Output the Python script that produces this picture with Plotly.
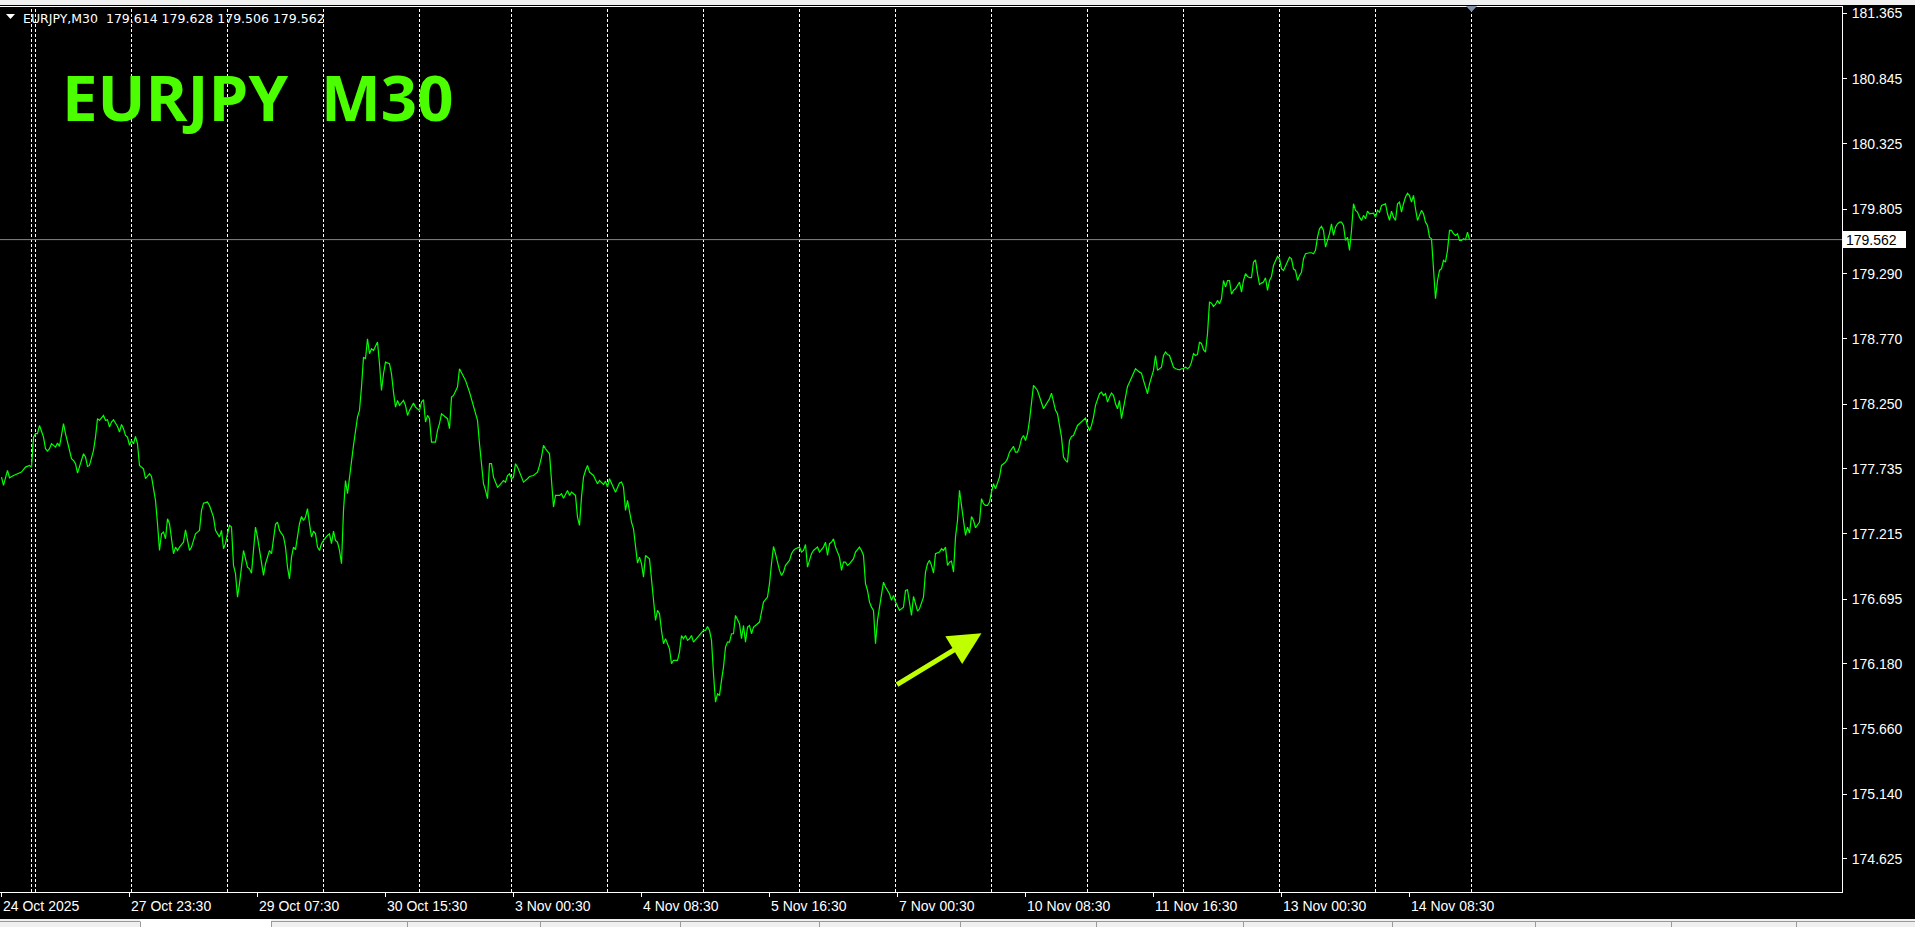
import plotly.graph_objects as go

# ---------------------------------------------------------------- data
symbol = "EURJPY"
timeframe = "M30"
last_bar_ohlc = [179.614, 179.628, 179.506, 179.562]   # O H L C of current bar

# M30 close prices, x = bar number (bar 0 = first bar on 24 Oct 2025)
bars_w1 = [0, 1, 3, 4, 6, 10, 12, 14, 15, 16, 17, 18, 19, 20, 21, 22, 23, 24, 25, 26,
           27, 28, 29, 30, 31, 32, 34, 35, 36, 37, 38, 39, 40, 41, 42, 43, 44, 46, 47, 48,
           49, 51, 52, 53, 54, 55, 56, 58, 59, 60, 61, 62, 63, 64, 65, 66, 67, 68, 69, 71,
           72, 74, 75, 76, 77, 78, 79, 80, 81, 82, 83, 84, 85, 86, 87, 88, 89, 91, 92, 93,
           94, 95, 97, 98, 99, 100, 101, 103, 104, 106, 107, 109, 110, 111, 112, 113, 114, 115, 116, 117,
           118, 119, 120, 121, 123, 124, 125, 127, 128, 129, 130, 131, 132, 134, 135, 136, 137, 138, 139, 141,
           142, 143, 144, 145, 146, 147, 149, 150, 151, 152, 153, 154, 155, 156, 157, 158, 159, 160, 161, 163,
           164, 165, 166, 167, 168, 169, 170, 171, 172, 173, 174, 175, 176, 178, 179, 180, 181, 182, 183, 184,
           185, 186, 187, 188, 189, 190, 191, 192, 194, 195, 196, 197, 198, 199, 201, 202, 203, 204, 206, 207,
           209, 210, 211, 212, 213, 214, 215, 217, 218, 219, 220, 222, 223, 224, 225, 226, 228, 229, 232, 234,
           236, 238, 239, 241, 242, 243, 244, 245, 246, 248, 249, 251, 252, 253, 254]
close_w1 = [177.668, 177.602, 177.721, 177.663, 177.681, 177.708, 177.748, 177.761, 177.748, 177.987,
            178.014, 178.014, 178.080, 178.040, 177.987, 177.894, 177.875, 177.894, 177.934, 177.921,
            177.907, 177.939, 177.913, 178.000, 178.094, 178.014, 177.881, 177.815, 177.801, 177.775,
            177.700, 177.748, 177.801, 177.854, 177.828, 177.753, 177.761, 177.881, 177.987, 178.134,
            178.120, 178.160, 178.120, 178.126, 178.067, 178.107, 178.126, 178.072, 178.027, 178.088,
            178.054, 178.000, 177.987, 177.921, 177.960, 177.934, 177.992, 177.934, 177.761, 177.734,
            177.655, 177.695, 177.673, 177.588, 177.482, 177.296, 177.083, 177.216, 177.229, 177.176,
            177.336, 177.296, 177.163, 177.057, 177.110, 177.083, 177.110, 177.149, 177.248, 177.176,
            177.083, 177.110, 177.216, 177.229, 177.243, 177.402, 177.460, 177.469, 177.442, 177.349,
            177.243, 177.189, 177.243, 177.097, 177.137, 177.216, 177.283, 177.269, 176.964, 176.898,
            176.711, 176.818, 176.950, 177.083, 176.950, 176.937, 176.902, 177.269, 177.189, 177.083,
            176.950, 176.884, 176.977, 177.083, 177.057, 177.163, 177.291, 177.309, 177.243, 177.195,
            177.110, 176.950, 176.857, 177.030, 177.110, 177.089, 177.296, 177.354, 177.322, 177.349,
            177.416, 177.296, 177.189, 177.237, 177.216, 177.110, 177.083, 177.137, 177.163, 177.203,
            177.216, 177.137, 177.237, 177.163, 177.149, 177.083, 176.977, 177.402, 177.641, 177.535,
            177.668, 177.827, 177.921, 178.147, 178.200, 178.386, 178.625, 178.612, 178.771, 178.652,
            178.692, 178.678, 178.718, 178.745, 178.572, 178.359, 178.492, 178.585, 178.572, 178.492,
            178.346, 178.226, 178.279, 178.240, 178.279, 178.240, 178.160, 178.200, 178.258, 178.226,
            178.200, 178.266, 178.285, 178.107, 178.160, 178.134, 177.947, 177.947, 178.040, 178.094,
            178.173, 178.147, 178.134, 178.054, 178.306, 178.319, 178.386, 178.532, 178.439, 178.346,
            178.226, 178.120, 177.934, 177.615, 177.562, 177.496, 177.775, 177.775, 177.668, 177.588,
            177.602, 177.641, 177.628, 177.681, 177.695]

bars_w2 = [255, 256, 257, 258, 259, 261, 263, 264, 266, 268, 269, 270, 271, 272, 274, 275, 276, 277, 279, 280,
           281, 283, 284, 285, 286, 287, 288, 289, 290, 291, 292, 293, 294, 296, 297, 298, 299, 301, 302, 303,
           304, 305, 306, 307, 309, 310, 311, 312, 313, 314, 315, 316, 317, 318, 319, 320, 321, 322, 324, 325,
           326, 327, 328, 329, 330, 331, 332, 334, 335, 336, 338, 339, 340, 341, 342, 343, 344, 345, 346, 348,
           349, 351, 352, 353, 354, 355, 356, 357, 358, 359, 360, 361, 362, 363, 364, 365, 366, 367, 369, 370,
           371, 372, 373, 374, 375, 376, 377, 379, 380, 381, 383, 384, 385, 386, 387, 389, 390, 391, 392, 394,
           395, 396, 397, 399, 400, 401, 402, 403, 404, 405, 406, 408, 409, 411, 412, 413, 414, 415, 416, 417,
           419, 420, 421, 422, 423, 424, 426, 427, 429, 430, 431, 432, 433, 434, 435, 436, 437, 438, 439, 440,
           441, 442, 444, 445, 446, 447, 449, 451, 452, 453, 454, 455, 456, 457, 458, 459, 460, 461, 462, 463,
           464, 465, 466, 467, 469, 470, 471, 472, 473, 474, 475, 476, 477, 478, 479, 480, 481, 482, 483, 484,
           485, 486, 487, 489, 490, 491, 492, 493, 494]
close_w2 = [177.655, 177.668, 177.775, 177.748, 177.708, 177.628, 177.655, 177.673, 177.681, 177.708,
            177.761, 177.827, 177.921, 177.894, 177.854, 177.668, 177.429, 177.522, 177.522, 177.535,
            177.500, 177.562, 177.522, 177.548, 177.535, 177.522, 177.349, 177.283, 177.508, 177.668,
            177.721, 177.761, 177.708, 177.681, 177.647, 177.615, 177.641, 177.609, 177.636, 177.588,
            177.655, 177.615, 177.588, 177.548, 177.621, 177.628, 177.588, 177.402, 177.482, 177.389,
            177.309, 177.256, 177.110, 176.982, 177.030, 176.977, 176.870, 177.043, 177.017, 176.870,
            176.685, 176.525, 176.605, 176.578, 176.445, 176.339, 176.379, 176.299, 176.180, 176.206,
            176.206, 176.272, 176.405, 176.379, 176.405, 176.366, 176.379, 176.405, 176.352, 176.392,
            176.405, 176.445, 176.445, 176.477, 176.445, 176.366, 176.100, 175.873, 175.940, 175.927,
            176.047, 176.153, 176.312, 176.352, 176.352, 176.419, 176.419, 176.565, 176.499, 176.379,
            176.485, 176.352, 176.472, 176.485, 176.419, 176.472, 176.485, 176.512, 176.591, 176.671,
            176.711, 176.818, 176.977, 177.115, 177.057, 176.924, 176.884, 176.910, 176.964, 177.004,
            177.057, 177.083, 177.097, 177.110, 177.070, 177.083, 177.131, 176.950, 177.004, 177.057,
            177.083, 177.110, 177.070, 177.110, 177.149, 177.043, 177.137, 177.149, 177.176, 177.110,
            177.030, 176.924, 176.990, 176.990, 176.964, 176.977, 177.017, 177.070, 177.110, 177.083,
            177.043, 176.818, 176.764, 176.671, 176.631, 176.605, 176.339, 176.525, 176.631, 176.738,
            176.830, 176.791, 176.738, 176.685, 176.725, 176.671, 176.605, 176.631, 176.764, 176.770,
            176.658, 176.565, 176.716, 176.658, 176.599, 176.618, 176.658, 176.711, 176.910, 176.977,
            177.004, 176.964, 176.902, 177.057, 177.070, 177.097, 177.083, 177.110, 176.964, 176.990,
            176.998, 176.910, 177.189, 177.322, 177.562, 177.456, 177.322, 177.203, 177.269, 177.221,
            177.354, 177.322, 177.264, 177.309, 177.496, 177.456, 177.442, 177.442, 177.469]

bars_w3 = [495, 496, 497, 498, 499, 500, 502, 503, 504, 506, 507, 508, 509, 510, 511, 512, 513, 514, 515, 516,
           518, 519, 520, 521, 522, 524, 525, 526, 527, 528, 529, 530, 531, 532, 533, 534, 535, 536, 538, 539,
           540, 542, 543, 544, 545, 546, 547, 549, 550, 551, 552, 553, 554, 555, 556, 557, 558, 559, 560, 561,
           562, 563, 564, 565, 566, 567, 569, 570, 571, 572, 573, 574, 576, 577, 578, 579, 580, 581, 582, 583,
           584, 586, 587, 589, 590, 591, 592, 593, 594, 595, 596, 597, 598, 599, 600, 601, 602, 603, 604, 605,
           606, 607, 608, 609, 610, 611, 612, 613, 614, 615, 616, 617, 618, 619, 620, 621, 622, 623, 624, 625,
           626, 627, 628, 629, 630, 631, 632, 633, 634, 635, 636, 637, 638, 639, 640, 641, 642, 643, 644, 645,
           646, 647, 648, 649, 650, 651, 652, 654, 655, 656, 657, 658, 659, 660, 661, 662, 663, 664, 665, 666,
           667, 668, 669, 670, 671, 672, 673, 674, 675, 676, 677, 678, 679, 680, 681, 682, 683, 684, 686, 687,
           688, 689, 690, 692, 693, 694, 695, 696, 697, 698, 699, 700, 701, 702, 703, 704, 705, 706, 707, 708,
           709, 710, 711, 712, 713, 714, 715, 716, 717, 718, 719, 720, 721, 722, 723, 724, 725, 726, 727, 728,
           729, 730, 731, 732, 733, 734]
close_w3 = [177.548, 177.615, 177.575, 177.628, 177.668, 177.761, 177.787, 177.815, 177.867, 177.913,
            177.867, 177.867, 177.907, 177.974, 178.000, 177.960, 178.014, 178.120, 178.253, 178.399,
            178.359, 178.306, 178.253, 178.213, 178.240, 178.293, 178.338, 178.253, 178.200, 178.173,
            178.094, 177.987, 177.827, 177.801, 177.787, 177.960, 177.992, 178.000, 178.080, 178.094,
            178.107, 178.138, 178.080, 178.040, 178.080, 178.147, 178.240, 178.333, 178.346, 178.319,
            178.333, 178.266, 178.306, 178.338, 178.319, 178.253, 178.213, 178.279, 178.134, 178.213,
            178.306, 178.391, 178.425, 178.465, 178.505, 178.532, 178.505, 178.497, 178.439, 178.386,
            178.333, 178.412, 178.519, 178.638, 178.519, 178.532, 178.545, 178.638, 178.665, 178.646,
            178.638, 178.545, 178.532, 178.524, 178.532, 178.532, 178.545, 178.532, 178.545, 178.585,
            178.652, 178.638, 178.646, 178.745, 178.732, 178.684, 178.665, 178.811, 179.063, 179.055,
            179.029, 179.045, 179.077, 179.050, 179.090, 179.236, 179.183, 179.236, 179.236, 179.126,
            179.157, 179.170, 179.196, 179.223, 179.143, 179.236, 179.290, 179.268, 179.258, 179.258,
            179.382, 179.401, 179.290, 179.204, 179.215, 179.223, 179.258, 179.157, 179.236, 179.268,
            179.356, 179.396, 179.428, 179.409, 179.330, 179.316, 179.356, 179.382, 179.422, 179.409,
            179.329, 179.316, 179.236, 179.276, 179.302, 179.409, 179.449, 179.457, 179.457, 179.449,
            179.476, 179.581, 179.648, 179.667, 179.635, 179.502, 179.555, 179.609, 179.688, 179.595,
            179.661, 179.688, 179.701, 179.701, 179.675, 179.555, 179.581, 179.476, 179.635, 179.848,
            179.795, 179.781, 179.741, 179.715, 179.755, 179.728, 179.789, 179.768, 179.773, 179.741,
            179.795, 179.781, 179.834, 179.848, 179.768, 179.715, 179.789, 179.741, 179.715, 179.848,
            179.861, 179.781, 179.848, 179.901, 179.932, 179.914, 179.861, 179.914, 179.808, 179.715,
            179.755, 179.795, 179.768, 179.701, 179.675, 179.581, 179.569, 179.290, 179.090, 179.236,
            179.316, 179.330, 179.396, 179.382, 179.476, 179.635, 179.635, 179.609, 179.595, 179.609,
            179.555, 179.555, 179.569, 179.561, 179.621, 179.562]

price_ticks = [181.365, 180.845, 180.325, 179.805, 179.290, 178.770, 178.250,
               177.735, 177.215, 176.695, 176.180, 175.660, 175.140, 174.625]
time_tick_bars = [0, 64, 128, 192, 256, 320, 384, 448, 512, 576, 640, 704]
time_tick_labels = ["24 Oct 2025", "27 Oct 23:30", "29 Oct 07:30", "30 Oct 15:30",
                    "3 Nov 00:30", "4 Nov 08:30", "5 Nov 16:30", "7 Nov 00:30",
                    "10 Nov 08:30", "11 Nov 16:30", "13 Nov 00:30", "14 Nov 08:30"]
day_separator_bars = [15, 17, 65, 113, 161, 209, 255, 303, 351, 399, 447,
                      495, 543, 591, 639, 687, 735]
arrow_from = [447, 176.006]   # (bar, price)
arrow_to = [490, 176.423]

bars = bars_w1 + bars_w2 + bars_w3
closes = close_w1 + close_w2 + close_w3
assert len(bars) == len(closes)
last_close = last_bar_ohlc[3]

# ---------------------------------------------------------------- geometry
W, H = 1915, 927
ML, MR, MT, MB = 0, 73, 7, 35
PW, PH = W - ML - MR, H - MT - MB
PX_PER_BAR = 2.0
PX_PER_YEN = 125.4
x_range = [-0.75, -0.75 + PW / PX_PER_BAR]
y_top = price_ticks[0] + 6.5 / PX_PER_YEN
y_range = [y_top - PH / PX_PER_YEN, y_top]


def px_x(px):
    return (px - ML) / PW


def px_y(py):
    return (H - MB - py) / PH


def price_px(p):
    return MT + (y_top - p) * PX_PER_YEN


LINE_GREEN = "#00FF00"
TITLE_GREEN = "#4CFF00"
ARROW_COLOR = "#BFFF00"
AXIS_FONT = dict(family="Liberation Sans", size=14, color="white")

# ---------------------------------------------------------------- figure
fig = go.Figure()
fig.add_trace(go.Scatter(x=bars, y=closes, mode="lines",
                         line=dict(color=LINE_GREEN, width=1.2),
                         hoverinfo="skip", showlegend=False))

shapes = []
for b in day_separator_bars:
    shapes.append(dict(type="line", xref="x", yref="paper", x0=b, x1=b, y0=0, y1=1,
                       line=dict(color="white", width=1, dash="3px,2px"), layer="below"))
# current price line
shapes.append(dict(type="line", xref="paper", yref="y", x0=0, x1=1, y0=last_close, y1=last_close,
                   line=dict(color="#778899", width=1), layer="below"))
# price label box on the axis
cy = price_px(last_close)
shapes.append(dict(type="rect", xref="paper", yref="paper", x0=px_x(1843), x1=px_x(1906),
                   y0=px_y(cy + 8.5), y1=px_y(cy - 8.5), fillcolor="white", line=dict(width=0)))
# header drop-down triangle
shapes.append(dict(type="path", xref="paper", yref="paper",
                   path=f"M {px_x(6)},{px_y(14)} L {px_x(15)},{px_y(14)} L {px_x(10.5)},{px_y(19)} Z",
                   fillcolor="white", line=dict(width=0)))
# chart-shift marker
shapes.append(dict(type="path", xref="paper", yref="paper",
                   path=f"M {px_x(1466)},{px_y(6)} L {px_x(1477)},{px_y(6)} L {px_x(1471.5)},{px_y(12)} Z",
                   fillcolor="#7F8FA6", line=dict(width=0)))
# window chrome: top strip, bottom tab bar
shapes.append(dict(type="rect", xref="paper", yref="paper", x0=px_x(0), x1=px_x(W),
                   y0=px_y(5), y1=px_y(0), fillcolor="#F0F0F0", line=dict(width=0)))
shapes.append(dict(type="rect", xref="paper", yref="paper", x0=px_x(0), x1=px_x(W),
                   y0=px_y(H), y1=px_y(919), fillcolor="#F0F0F0", line=dict(width=0)))
shapes.append(dict(type="rect", xref="paper", yref="paper", x0=px_x(140), x1=px_x(271),
                   y0=px_y(H), y1=px_y(919), fillcolor="white", line=dict(width=0)))
for xa, xb in [(0, 140), (271, W)]:
    shapes.append(dict(type="line", xref="paper", yref="paper", x0=px_x(xa), x1=px_x(xb),
                       y0=px_y(921.5), y1=px_y(921.5), line=dict(color="#9A9A9A", width=1)))
for xs in [140, 271, 407, 540, 680, 819, 960, 1096, 1243, 1392, 1535, 1671, 1796]:
    shapes.append(dict(type="line", xref="paper", yref="paper", x0=px_x(xs + 0.5), x1=px_x(xs + 0.5),
                       y0=px_y(921.5), y1=px_y(H), line=dict(color="#9A9A9A", width=1)))

annotations = []
header = f"{symbol},{timeframe}\u00a0\u00a0" + " ".join(f"{v:.3f}" for v in last_bar_ohlc)
annotations.append(dict(text=header, xref="paper", yref="paper", x=px_x(21), y=px_y(18.5),
                        xanchor="left", yanchor="middle", showarrow=False,
                        font=dict(family="DejaVu Sans", size=12.5, color="white")))
annotations.append(dict(text=f"{symbol}\u00a0\u00a0{timeframe}", xref="paper", yref="paper",
                        x=px_x(60), y=px_y(50.5), xanchor="left", yanchor="top", showarrow=False,
                        font=dict(family="Open Sans", size=63.5, color=TITLE_GREEN, weight=700)))
annotations.append(dict(text=f"{last_close:.3f}", xref="paper", yref="paper", x=px_x(1844),
                        y=px_y(cy), xanchor="left", yanchor="middle", showarrow=False,
                        font=dict(family="Liberation Sans", size=14, color="black")))
for b, lab in zip(time_tick_bars, time_tick_labels):
    annotations.append(dict(text=lab, xref="x", yref="paper", x=b, y=px_y(905.5),
                            xanchor="left", yanchor="middle", showarrow=False, xshift=-1,
                            font=AXIS_FONT))
annotations.append(dict(text="", x=arrow_to[0], y=arrow_to[1], xref="x", yref="y",
                        ax=arrow_from[0], ay=arrow_from[1], axref="x", ayref="y",
                        showarrow=True, arrowhead=2, arrowsize=1.3, arrowwidth=5,
                        arrowcolor=ARROW_COLOR, standoff=0))

fig.update_layout(
    width=W, height=H,
    margin=dict(l=ML, r=MR, t=MT, b=MB, pad=0, autoexpand=False),
    paper_bgcolor="black", plot_bgcolor="black", showlegend=False,
    xaxis=dict(range=x_range, showgrid=False, zeroline=False, showline=True,
               linecolor="white", linewidth=1, mirror=True, ticks="outside", ticklen=4,
               tickwidth=1, tickcolor="white", tickvals=time_tick_bars,
               showticklabels=False, fixedrange=True),
    yaxis=dict(range=y_range, side="right", showgrid=False, zeroline=False, showline=True,
               linecolor="white", linewidth=1, mirror=True, ticks="outside", ticklen=4,
               tickwidth=1, tickcolor="white", tickvals=price_ticks,
               ticktext=[f"{v:.3f}" for v in price_ticks], tickfont=AXIS_FONT,
               ticklabelstandoff=2, fixedrange=True),
    shapes=shapes, annotations=annotations,
)

fig.write_html("out.html", include_plotlyjs=True, config={"displayModeBar": False},
               post_script="document.body.style.margin='0';document.body.style.overflow='hidden';")
